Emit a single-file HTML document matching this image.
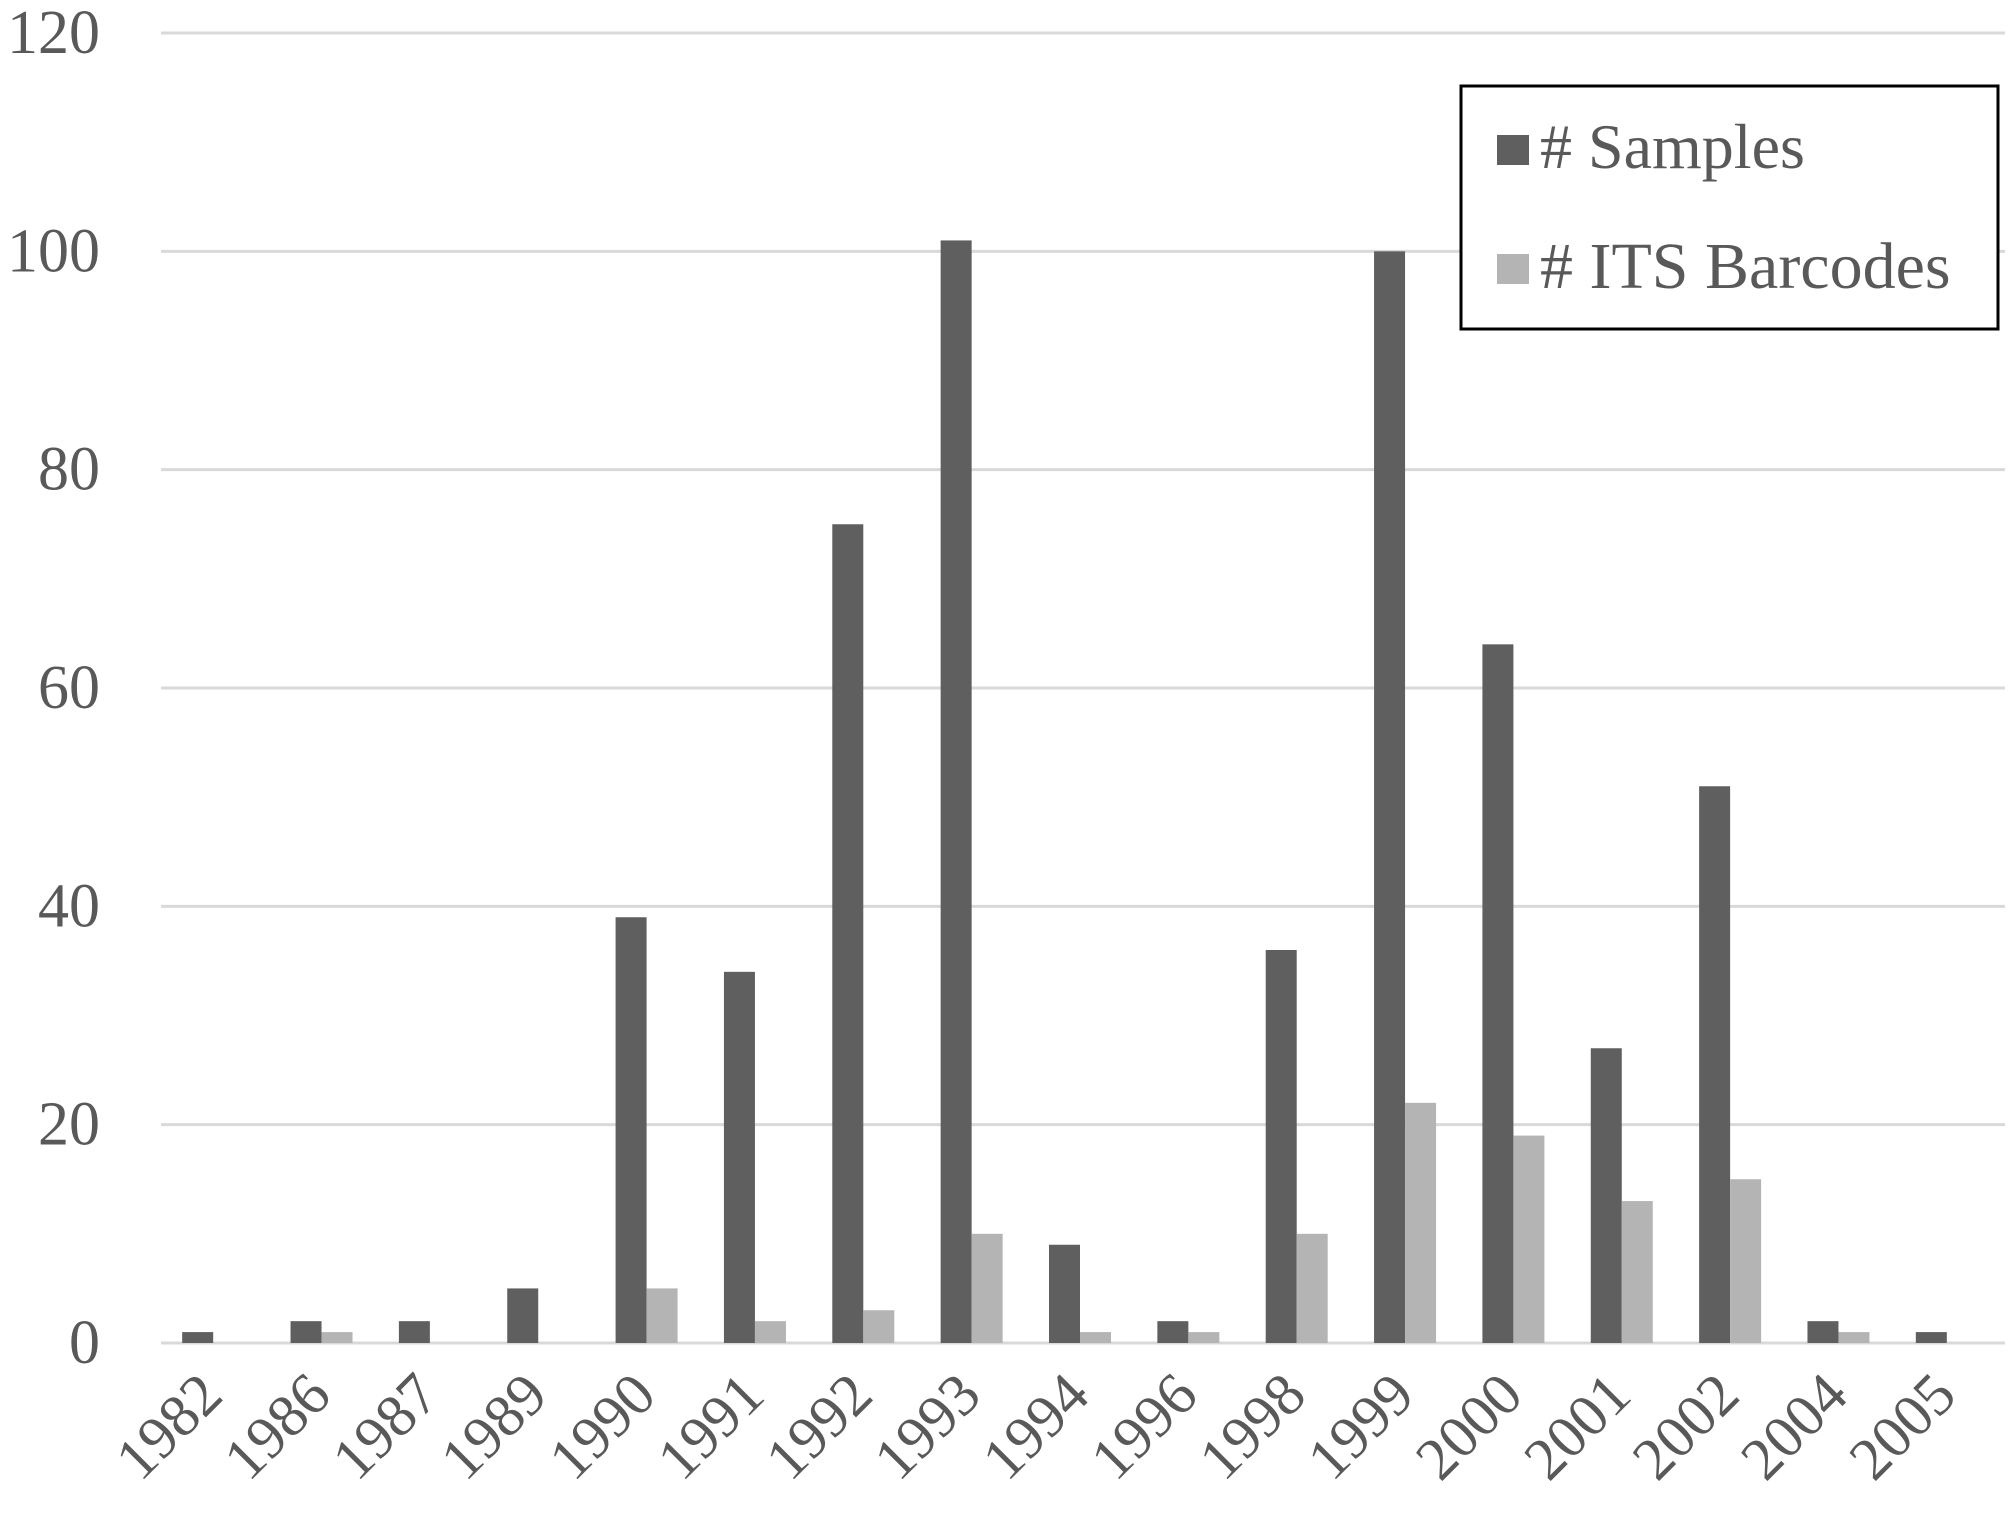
<!DOCTYPE html>
<html><head><meta charset="utf-8"><style>
html,body{margin:0;padding:0;background:#fff;}
svg{display:block;font-family:"Liberation Serif",serif;}
</style></head><body>
<svg id="chart" width="2008" height="1530" viewBox="0 0 2008 1530" xmlns="http://www.w3.org/2000/svg">
<g id="grid"></g>
<g id="yticks"></g>
<g id="bars"></g>
<g id="xticks"></g>
<g>
<rect x="1461" y="86" width="537" height="243" fill="#fff" stroke="#000" stroke-width="3"/>
<rect x="1497" y="135" width="32" height="30" fill="#5f5f5f"/>
<text x="1540" y="168" font-size="64" fill="#595959"># Samples</text>
<rect x="1497" y="254" width="32" height="30" fill="#b4b4b4"/>
<text x="1540" y="288" font-size="66" fill="#595959"># ITS Barcodes</text>
</g>
</svg>
<script>
const categories = ["1982","1986","1987","1989","1990","1991","1992","1993","1994","1996","1998","1999","2000","2001","2002","2004","2005"];
const samples = [1,2,2,5,39,34,75,101,9,2,36,100,64,27,51,2,1];
const barcodes = [0,1,0,0,5,2,3,10,1,1,10,22,19,13,15,1,0];
const yTicks = [0,20,40,60,80,100,120];

const NS = "http://www.w3.org/2000/svg";
const gridLeft = 161, gridRight = 2005;
const plotLeft = 159, plotRight = 2001, plotTop = 33, plotBottom = 1343, yMax = 120;
const band = (plotRight - plotLeft) / categories.length;
const barW = 31;
function yScale(v){ return plotBottom - v / yMax * (plotBottom - plotTop); }
function xBand(i){ return plotLeft + i * band; }
function mk(tag, attrs, parent){
  const e = document.createElementNS(NS, tag);
  for (const k in attrs) e.setAttribute(k, attrs[k]);
  parent.appendChild(e);
  return e;
}
const grid = document.getElementById('grid');
const yt = document.getElementById('yticks');
yTicks.forEach(t => {
  const l = mk('line', {x1:gridLeft, x2:gridRight, y1:yScale(t), y2:yScale(t), stroke:'#d9d9d9', 'stroke-width':3}, grid);
  
  
  const tx = mk('text', {x:100, y:yScale(t)+20, 'text-anchor':'end', 'font-size':62, fill:'#595959'}, yt);
  tx.textContent = t;
  
  
});
const bars = document.getElementById('bars');
const xt = document.getElementById('xticks');
categories.forEach((c, i) => {
  const x0 = xBand(i) + (band - 2 * barW) / 2;
  const b1 = mk('rect', {x:x0, y:yScale(samples[i]), width:barW, height:plotBottom - yScale(samples[i]), fill:'#5f5f5f'}, bars);
  
  
  const b2 = mk('rect', {x:x0 + barW, y:yScale(barcodes[i]), width:barW, height:plotBottom - yScale(barcodes[i]), fill:'#b4b4b4'}, bars);
  
  
  const cx = xBand(i) + band / 2 + 12, cy = 1398;
  const tx = mk('text', {x:cx, y:cy, 'text-anchor':'end', 'font-size':60, fill:'#595959', transform:'rotate(-45 ' + cx + ' ' + cy + ')'}, xt);
  tx.textContent = c;
  
  
});
</script>
</body></html>
